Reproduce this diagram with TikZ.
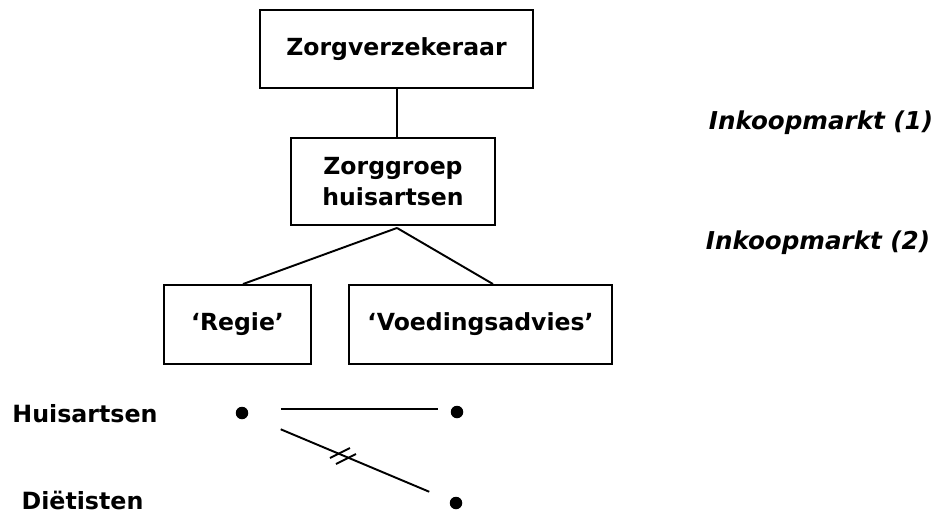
\documentclass[tikz,border=0pt]{standalone}
\usepackage{fontspec}
\setmainfont{DejaVu Sans}
\usetikzlibrary{positioning,calc}

\tikzset{
  box/.style={draw,line width=1.1pt,font=\bfseries\fontsize{13.4}{18}\selectfont,align=center,inner sep=0pt},
  markt/.style={font=\bfseries\itshape\fontsize{14}{18}\selectfont},
  party/.style={font=\bfseries\fontsize{13.5}{18}\selectfont,inner sep=1pt},
  dot/.style={circle,fill,inner sep=0pt,minimum size=0.25cm},
  link/.style={line width=1.1pt}
}

\begin{document}
\begin{tikzpicture}[x=0.02cm,y=-0.02cm]
\useasboundingbox (0,0) rectangle (944,515);
% boxes
\node[box,minimum width=5.46cm,minimum height=1.56cm] (verz) at (396.5,49) {Zorgverzekeraar};
\node[box,minimum width=4.08cm,minimum height=1.74cm] (groep) at (393,181.5) {Zorggroep\\huisartsen};
\node[box,minimum width=2.94cm,minimum height=1.58cm] (regie) at (237.5,324.5) {`Regie'};
\node[box,minimum width=5.26cm,minimum height=1.58cm] (voeding) at (480.5,324.5) {`Voedingsadvies'};
\node[markt] (markt1) at (821,123) {Inkoopmarkt (1)};
\node[markt] (markt2) at (818,243) {Inkoopmarkt (2)};
% lines between boxes
\coordinate (top) at ($(groep.south)+(4,2)$);
\draw[link] (verz.south -| top) -- (groep.north -| top);
\draw[link] (top) -- ([xshift=0.11cm]regie.north);
\draw[link] (top) -- ([xshift=0.25cm]voeding.north);
% parties
\node[party] (huis) at (85,414) {Huisartsen};
\node[party] (diet) at (82.5,500) {Diëtisten};
\node[dot] (hd) at (242,413) {};
\node[dot] (rd) at (457,412) {};
\node[dot] (dd) at (456,503) {};
\draw[link,shorten <=0.78cm,shorten >=0.38cm] ([yshift=0.08cm]hd.center) -- ([yshift=0.06cm]rd.center);
\draw[link,shorten <=0.84cm,shorten >=0.58cm] (hd.center) -- (dd.center);
% double slash
\coordinate (tick) at (343,457);
\draw[link] ($(tick)+(-13,1)$) -- ++(20,-10);
\draw[link] ($(tick)+(-7,7)$) -- ++(20,-10);
\end{tikzpicture}
\end{document}
